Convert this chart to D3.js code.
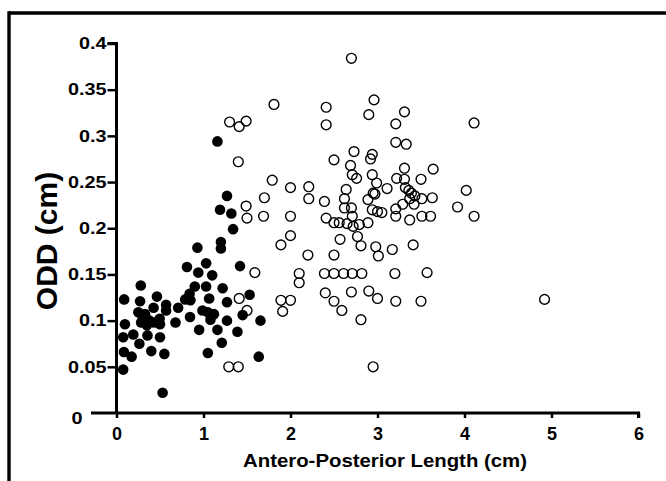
<!DOCTYPE html>
<html><head><meta charset="utf-8">
<script src="https://cdn.jsdelivr.net/npm/d3@7"></script>
<style>
html,body{margin:0;padding:0;background:#fff;}
svg{display:block;}
text{font-family:"Liberation Sans",Arial,Helvetica,sans-serif;font-weight:bold;fill:#000;}
</style></head>
<body>
<svg id="chart" width="666" height="481"></svg>
<script>
const xTicks = [0,1,2,3,4,5,6];
const yTicks = [0,0.05,0.1,0.15,0.2,0.25,0.3,0.35,0.4];
const yTickLabels = ["0","0.05","0.1","0.15","0.2","0.25","0.3","0.35","0.4"];
const xTitle = "Antero-Posterior Length (cm)";
const yTitle = "ODD (cm)";

// filled circles (group 1)
const filledX = [1.16,1.27,1.19,1.32,1.34,1.20,1.20,0.93,0.81,1.03,0.94,1.10,1.42,
  0.79,0.84,0.85,0.90,1.03,0.845,0.988,1.065,1.22,1.05,1.12,1.08,1.27,0.95,1.16,1.27,1.39,1.45,1.53,1.21,1.05,1.655,1.635,
  0.088,0.279,0.271,0.465,0.251,0.329,0.426,0.57,0.57,0.709,0.097,0.283,0.349,0.43,0.496,0.50,0.678,0.077,0.193,0.263,0.356,0.50,0.085,0.174,0.40,0.55,0.077,0.53,0.30,0.38];
const filledY = [0.294,0.235,0.220,0.216,0.199,0.185,0.178,0.179,0.158,0.162,0.152,0.149,0.159,
  0.123,0.129,0.122,0.137,0.137,0.104,0.111,0.124,0.135,0.109,0.107,0.101,0.120,0.090,0.090,0.100,0.088,0.106,0.128,0.076,0.065,0.100,0.061,
  0.123,0.138,0.121,0.126,0.109,0.107,0.114,0.117,0.111,0.114,0.096,0.098,0.095,0.098,0.102,0.096,0.098,0.082,0.085,0.075,0.084,0.082,0.066,0.061,0.067,0.064,0.047,0.022,0.104,0.100];

// open circles (group 2)
const openX = [2.70,1.81,2.41,2.41,2.96,2.90,3.31,3.21,4.11,1.30,1.41,1.49,1.40,3.21,3.33,2.73,2.94,2.92,2.50,2.69,2.71,2.76,2.94,3.31,3.64,
  1.79,2.00,2.21,2.21,1.70,1.49,1.50,1.69,2.00,2.00,1.89,2.39,2.41,2.50,2.56,2.65,2.64,2.62,2.62,2.70,2.71,2.72,2.79,2.89,2.89,2.94,2.95,2.97,2.99,3.00,3.05,3.11,3.22,3.21,3.21,3.29,3.31,3.32,3.36,3.39,3.37,3.43,3.42,3.37,3.50,3.51,3.51,3.63,3.61,3.92,4.02,4.11,
  2.77,2.81,2.57,2.50,2.20,2.98,3.01,3.17,3.41,
  1.59,2.10,2.10,2.39,2.50,2.61,2.71,2.82,3.20,3.57,
  1.41,1.50,1.89,1.91,2.00,2.40,2.50,2.59,2.70,2.90,3.00,3.21,3.50,2.81,4.92,1.29,1.40,2.95];
const openY = [0.384,0.334,0.331,0.312,0.339,0.323,0.326,0.313,0.314,0.315,0.310,0.316,0.272,0.293,0.291,0.283,0.280,0.275,0.274,0.268,0.258,0.254,0.258,0.265,0.264,
  0.252,0.244,0.245,0.232,0.233,0.224,0.211,0.213,0.213,0.192,0.182,0.229,0.211,0.206,0.206,0.205,0.242,0.232,0.222,0.222,0.213,0.202,0.204,0.206,0.231,0.220,0.238,0.237,0.249,0.218,0.217,0.243,0.254,0.213,0.221,0.226,0.253,0.244,0.241,0.238,0.232,0.235,0.226,0.209,0.253,0.232,0.213,0.233,0.213,0.223,0.241,0.213,
  0.191,0.181,0.188,0.171,0.171,0.180,0.170,0.177,0.182,
  0.152,0.151,0.141,0.151,0.151,0.151,0.151,0.151,0.151,0.152,
  0.124,0.111,0.122,0.110,0.122,0.130,0.121,0.111,0.131,0.132,0.124,0.121,0.121,0.101,0.123,0.050,0.050,0.050];

const svg = d3.select("#chart");
const x = d3.scaleLinear().domain([0,6]).range([116.5,638.5]);
const y = d3.scaleLinear().domain([0,0.4]).range([413,43.5]);

// frame
svg.append("line").attr("x1",9).attr("x2",666).attr("y1",13).attr("y2",13)
  .attr("stroke","#000").attr("stroke-width",3.4);
svg.append("line").attr("x1",9).attr("x2",9).attr("y1",11.3).attr("y2",481)
  .attr("stroke","#000").attr("stroke-width",3.4);

// x axis
const gx = svg.append("g").attr("transform",`translate(0,${y(0)})`)
  .call(d3.axisBottom(x).tickValues(xTicks).tickFormat(d3.format("d")).tickSize(5).tickPadding(9.5));
gx.select(".domain").attr("d",`M91,0H${x(6)}V5`).attr("stroke-width",3);
gx.selectAll(".tick line").attr("stroke-width",2.5);
gx.selectAll(".tick text").style("font-size","18px");

// y axis
const gy = svg.append("g").attr("transform",`translate(${x(0)},0)`)
  .call(d3.axisLeft(y).tickValues(yTicks).tickFormat((d,i)=>yTickLabels[i]).tickSize(9).tickPadding(1));
gy.select(".domain").attr("d",`M-9,${y(0.4)}H0V${y(0)}`).attr("stroke-width",3);
gy.selectAll(".tick line").attr("stroke-width",2.5);
gy.selectAll(".tick text").style("font-size","16.5px").each(function(){
  const t = d3.select(this);
  const w = this.getComputedTextLength();
  t.attr("textLength", w*1.2).attr("lengthAdjust","spacingAndGlyphs");
});
gy.selectAll(".tick").filter(d=>d===0).each(function(){
  d3.select(this).select("line").remove();
  d3.select(this).select("text").attr("x",-34).attr("dy","0.62em");
});

// points
const filled = filledX.map((v,i)=>({x:v,y:filledY[i]}));
const open = openX.map((v,i)=>({x:v,y:openY[i]}));
svg.append("g").selectAll("circle").data(open).join("circle")
  .attr("cx",d=>x(d.x)).attr("cy",d=>y(d.y)).attr("r",4.9)
  .attr("fill","none").attr("stroke","#000").attr("stroke-width",1.4);
svg.append("g").selectAll("circle").data(filled).join("circle")
  .attr("cx",d=>x(d.x)).attr("cy",d=>y(d.y)).attr("r",5.3)
  .attr("fill","#000");

// titles
svg.append("text").attr("x",385).attr("y",467).attr("text-anchor","middle")
  .style("font-size","19px").attr("textLength",284).attr("lengthAdjust","spacingAndGlyphs").text(xTitle);
svg.append("text").attr("transform","translate(56.5,241) rotate(-90)").attr("text-anchor","middle")
  .style("font-size","30px").text(yTitle);
</script>
</body></html>
